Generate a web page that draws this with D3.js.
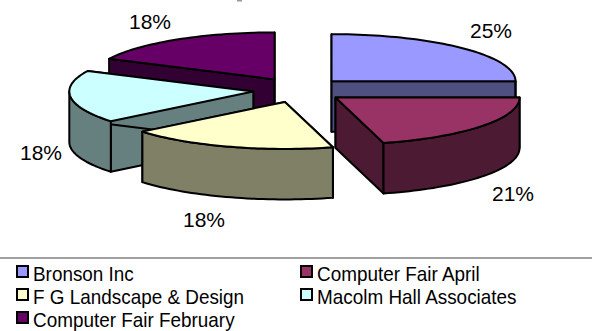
<!DOCTYPE html>
<html><head><meta charset="utf-8">
<script src="https://cdn.jsdelivr.net/npm/d3@7"></script>
<style>html,body{margin:0;padding:0;background:#fff}svg{display:block}text{font-family:"Liberation Sans",Arial,sans-serif;fill:#000}</style>
</head><body><div id="c"></div>
<script>
const categories=["Bronson Inc","Computer Fair April","F G Landscape & Design","Macolm Hall Associates","Computer Fair February"];
const values=[25,20.8,18.3,18.1,17.8];
const topColors=["#9999FF","#993366","#FFFFCC","#CCFFFF","#660066"];
const wallColors=["#4F4F80","#4D1A33","#808066","#668080","#330033"];
const labels=["25%","21%","18%","18%","18%"];
const W=592,H=331,cx=299,cy=90,rx=184,ry=47,ex=46,ey=12.5,depth=50.5;
const svg=d3.select("#c").append("svg").attr("width",W).attr("height",H);
const arcs=d3.pie().sort(null).value(d=>d).startAngle(0).endAngle(2*Math.PI)(values);
const line=d3.line();
function pt(c,a,dz=0){return [c[0]+rx*Math.sin(a),c[1]-ry*Math.cos(a)+dz];}
function rim(c,a0,a1,dz=0){const n=Math.max(2,Math.ceil(Math.abs(a1-a0)/0.03));return d3.range(n+1).map(i=>pt(c,a0+(a1-a0)*i/n,dz));}
function poly(g,pts,fill){g.append("path").attr("d",line(pts)+"Z").attr("fill",fill).attr("stroke","#000").attr("stroke-width",2).attr("stroke-linejoin","round");}
// title descender clipped at the top edge of the picture
svg.append("rect").attr("x",237).attr("y",0).attr("width",5).attr("height",1.5).attr("fill","#999");
const order=[4,0,3,1,2];
const lbl=[[491,30],[513,193],[204,219],[41,152],[150,21]];
order.forEach(i=>{
  const d=arcs[i],m=(d.startAngle+d.endAngle)/2,g=svg.append("g");
  const c=[cx+ex*Math.sin(m),cy-ey*Math.cos(m)];
  const a0=d.startAngle,a1=d.endAngle,down=[c[0],c[1]+depth];
  [a0,a1].forEach(a=>{
    const p=pt(c,a);
    poly(g,[c,p,[p[0],p[1]+depth],down],wallColors[i]);
  });
  const f0=Math.max(a0,Math.PI/2),f1=Math.min(a1,3*Math.PI/2);
  if(f1>f0){
    poly(g,rim(c,f0,f1).concat(rim(c,f1,f0,depth)),wallColors[i]);
  }
  poly(g,[c].concat(rim(c,a0,a1)),topColors[i]);
});
labels.forEach((t,i)=>{
  svg.append("text").attr("x",lbl[i][0]).attr("y",lbl[i][1]+7.5).attr("text-anchor","middle").attr("font-size",21).text(t);
});
svg.append("line").attr("x1",0).attr("x2",W).attr("y1",258).attr("y2",258).attr("stroke","#808080").attr("stroke-width",1.5);
const col=d3.scalePoint().domain([0,1]).range([17,301]);
const row=d3.scalePoint().domain([0,1,2]).range([266,312]);
categories.forEach((t,i)=>{
  const x=col(i%2),y=row(Math.floor(i/2));
  svg.append("rect").attr("x",x).attr("y",y).attr("width",11).attr("height",11).attr("fill",topColors[i]).attr("stroke","#000").attr("stroke-width",2);
  svg.append("text").attr("transform",`translate(${x+16},${y+15}) scale(0.9,1)`).attr("font-size",21).text(t);
});
</script></body></html>
